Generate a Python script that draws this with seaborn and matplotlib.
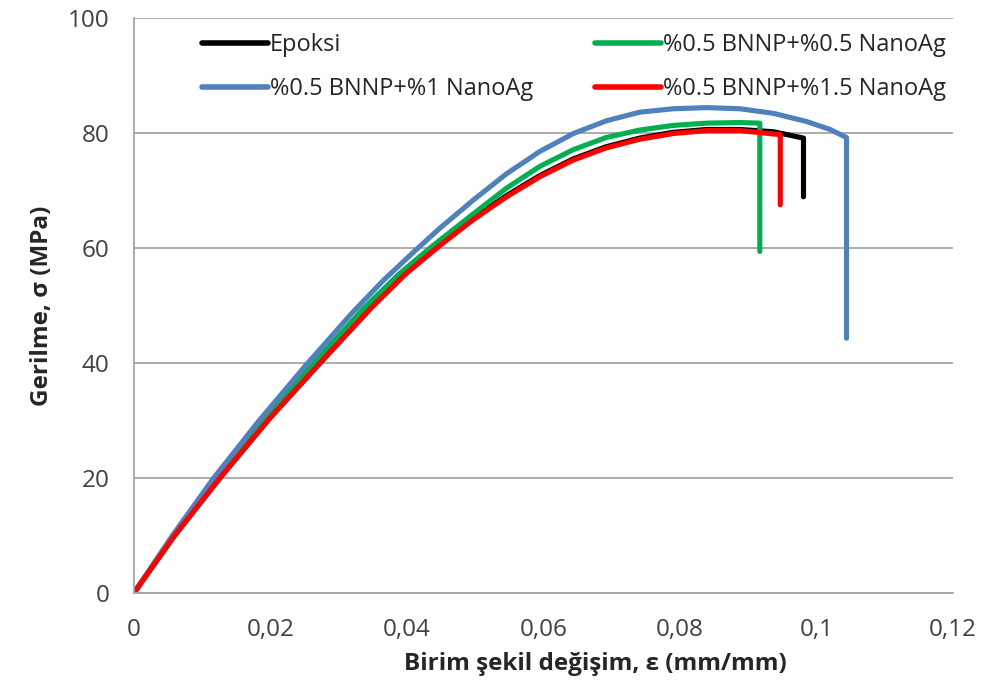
import matplotlib
matplotlib.use("Agg")
import matplotlib.pyplot as plt
import seaborn as sns
import pandas as pd
from matplotlib.lines import Line2D
from matplotlib.ticker import FuncFormatter

# ---- data ----
labels = ["Epoksi", "%0.5 BNNP+%0.5 NanoAg", "%0.5 BNNP+%1 NanoAg", "%0.5 BNNP+%1.5 NanoAg"]

eps_epoksi = [0, 0.0059, 0.0128, 0.0199, 0.0275, 0.0346, 0.0397, 0.0448, 0.0497, 0.0546, 0.0595,
              0.0644, 0.0692, 0.0741, 0.0790, 0.0839, 0.0888, 0.0937, 0.0981, 0.0981]
sig_epoksi = [0, 9.9, 20.3, 30.4, 40.3, 49.4, 55.4, 60.5, 65.1, 69.1, 72.6,
              75.5, 77.6, 79.1, 80.1, 80.6, 80.6, 80.2, 79.1, 68.9]

eps_green = [0, 0.0058, 0.0124, 0.0190, 0.0264, 0.0336, 0.0387, 0.0436, 0.0497, 0.0546, 0.0595,
             0.0644, 0.0692, 0.0741, 0.0790, 0.0839, 0.0888, 0.0917, 0.0917]
sig_green = [0, 9.9, 20.3, 30.2, 40.0, 49.4, 55.3, 60.2, 65.9, 70.4, 74.2,
             77.1, 79.2, 80.5, 81.3, 81.7, 81.8, 81.7, 59.4]

eps_blue = [0, 0.0056, 0.0117, 0.0183, 0.0252, 0.0319, 0.0365, 0.0409, 0.0448, 0.0497, 0.0546,
            0.0595, 0.0644, 0.0692, 0.0741, 0.0790, 0.0839, 0.0888, 0.0937, 0.0985, 0.1020,
            0.1044, 0.1044]
sig_blue = [0, 9.9, 20.0, 29.9, 39.6, 48.6, 54.3, 59.2, 63.4, 68.3, 72.9,
            76.8, 79.9, 82.1, 83.6, 84.2, 84.4, 84.2, 83.4, 82.0, 80.6,
            79.2, 44.3]

eps_red = [0, 0.0059, 0.0128, 0.0199, 0.0275, 0.0346, 0.0397, 0.0448, 0.0497, 0.0546, 0.0595,
           0.0644, 0.0692, 0.0741, 0.0790, 0.0839, 0.0888, 0.0947, 0.0947]
sig_red = [0, 9.9, 20.3, 30.4, 40.3, 49.4, 55.4, 60.4, 64.9, 68.9, 72.4,
           75.3, 77.4, 78.9, 79.9, 80.4, 80.4, 79.7, 67.5]

x_ticks = [0, 0.02, 0.04, 0.06, 0.08, 0.1, 0.12]
y_ticks = [0, 20, 40, 60, 80, 100]

colors = {labels[0]: "#000000", labels[1]: "#00B050", labels[2]: "#4F81BD", labels[3]: "#FF0000"}

frames = []
for lab, xs, ys in zip(labels, [eps_epoksi, eps_green, eps_blue, eps_red],
                       [sig_epoksi, sig_green, sig_blue, sig_red]):
    frames.append(pd.DataFrame({"eps": xs, "sig": ys, "series": lab}))
df = pd.concat(frames, ignore_index=True)

sns.set_style("white")
plt.rcParams["font.family"] = ["Open Sans", "DejaVu Sans"]

fig = plt.figure(figsize=(9.84, 6.88), dpi=100)
ax = fig.add_axes([0.136, 0.138, 0.8325, 0.836])

for lab in labels:
    sub = df[df["series"] == lab]
    sns.lineplot(data=sub, x="eps", y="sig", sort=False, estimator=None, color=colors[lab],
                 linewidth=3.7, ax=ax, legend=False, solid_capstyle="round",
                 solid_joinstyle="round")

ax.set_xlim(0, 0.12)
ax.set_ylim(0, 100)
ax.set_xticks(x_ticks)
ax.set_yticks(y_ticks)

def fmt(v, pos):
    s = f"{v:.2f}".rstrip("0").rstrip(".")
    return s.replace(".", ",")
ax.xaxis.set_major_formatter(FuncFormatter(fmt))

ax.grid(axis="y", color="#A6A6A6", linewidth=1.3)
ax.set_axisbelow(True)
for s in ["top", "right"]:
    ax.spines[s].set_visible(False)
for s in ["left", "bottom"]:
    ax.spines[s].set_color("#A6A6A6")
    ax.spines[s].set_linewidth(1.3)
ax.tick_params(axis="both", direction="out", length=6.5, width=1.3, color="#A6A6A6",
               labelsize=17.5, labelcolor="#404040")
ax.tick_params(axis="y", pad=11)
ax.tick_params(axis="x", pad=11.5)

ax.set_xlabel("Birim şekil değişim, ε (mm/mm)", fontsize=17.5, fontweight="bold",
              labelpad=7, x=0.563)
ax.set_ylabel("Gerilme, σ (MPa)", fontsize=17.5, fontweight="bold", labelpad=10)

handles = [Line2D([], [], color=colors[l], linewidth=4.0, solid_capstyle="round") for l in labels]
order = [0, 2, 1, 3]
ax.legend([handles[i] for i in order], [labels[i] for i in order], ncol=2,
          loc="upper left", bbox_to_anchor=(0.0827, 0.973), borderaxespad=0, borderpad=0,
          frameon=False, fontsize=17, handlelength=2.8, handletextpad=0.1,
          columnspacing=2.6, labelspacing=0.85)

fig.savefig("out.png", dpi=100, facecolor="white")
